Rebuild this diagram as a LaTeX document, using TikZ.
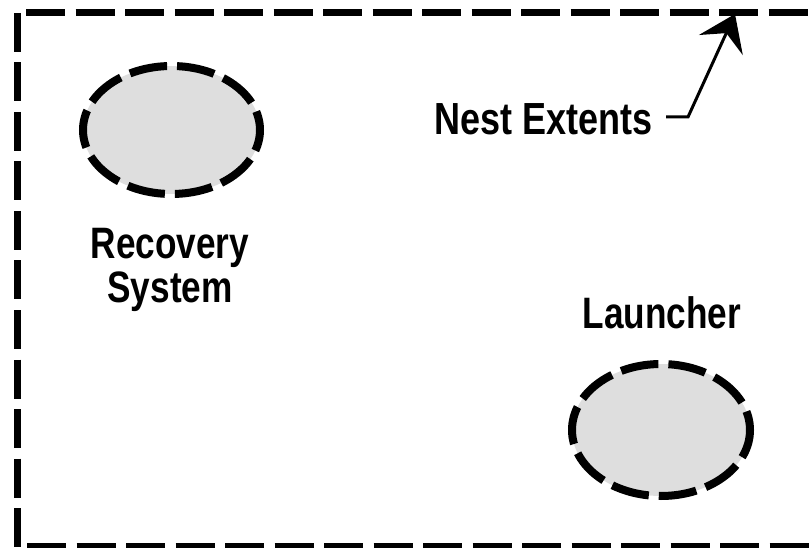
\documentclass[tikz,border=0pt]{standalone}
\usepackage{fontspec}
\newfontfamily\lbl{Liberation Sans}[FakeStretch=0.8]
\usetikzlibrary{shapes.geometric,arrows.meta}
\definecolor{blobfill}{HTML}{DEDEDE}
\tikzset{
  frameline/.style={line width=7pt, dash pattern=on 39pt off 10.5pt},
  blob/.style={ellipse, draw, fill=blobfill, line width=8pt, inner sep=0pt,
    dash pattern=on 38pt off 10pt, dash phase=19pt},
  label/.style={font=\lbl\bfseries\fontsize{44}{44}\selectfont, inner sep=0pt},
  leader/.style={line width=3pt},
}
\begin{document}
\begin{tikzpicture}[x=1pt,y=-1pt]
\useasboundingbox (0,0) rectangle (809,548);
% frame (nest extents)
\draw[frameline] (17,13) -- (17,560);
\draw[frameline] (26,12.5) -- (830,12.5);
\draw[frameline] (27,546) -- (830,546);
% ellipses
\node[blob, minimum width=177pt, minimum height=128pt] (rec) at (171.5,130) {};
\node[blob, minimum width=178pt, minimum height=132pt] (lau) at (661,430) {};
% labels
\node[label, align=center, anchor=north] (rectext) at (170,228) {Recovery\\System};
\node[label, anchor=base] (lautext) at (662,328) {Launcher};
\node[label, anchor=base, font=\lbl\bfseries\fontsize{45}{45}\selectfont] (nest) at (543.5,135) {Nest Extents};
% leader arrow
\coordinate (l0) at (666,117);
\coordinate (l1) at (688,117);
\coordinate (tip) at (735,14);
\draw[leader, -{Stealth[length=34pt, width=48pt, inset=13pt]}] (l0) -- (l1) -- (tip);
\end{tikzpicture}
\end{document}
